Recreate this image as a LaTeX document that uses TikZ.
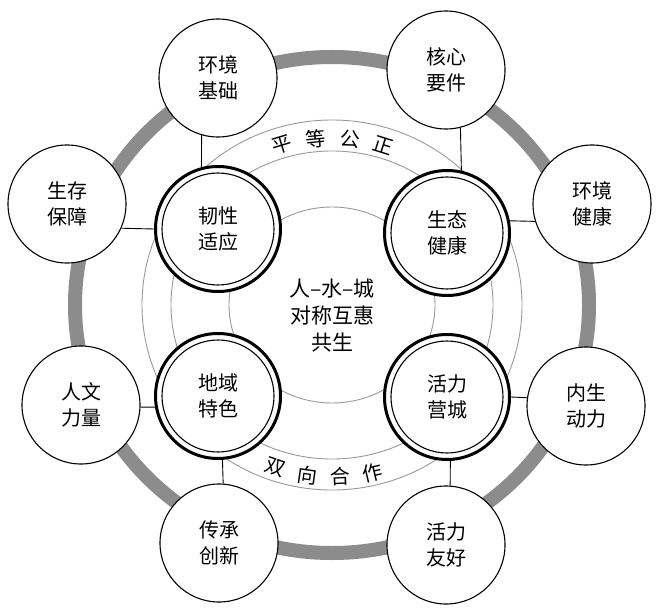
\documentclass[tikz,border=0pt]{standalone}
\usepackage{fontspec}
\setmainfont{Noto Sans CJK SC}
\usetikzlibrary{calc}
\tikzstyle{band}=[black!45, line width=14pt]
\tikzstyle{orbit}=[black!40, line width=0.9pt]
\tikzstyle{link}=[black, line width=0.9pt]
\tikzstyle{word}=[inner sep=0pt, font=\fontsize{20pt}{26pt}\selectfont]
\tikzstyle{goal}=[circle, draw=black, fill=white, line width=1.1pt, minimum size=118pt, inner sep=0pt, align=center, font=\fontsize{20pt}{26pt}\selectfont]
\tikzstyle{pillar}=[circle, draw=black, fill=white, line width=3pt, minimum size=125pt, inner sep=0pt, align=center, font=\fontsize{20pt}{26pt}\selectfont,
	path picture={\draw[line width=1.1pt] (path picture bounding box.center) circle (56pt);}]

\begin{document}
\begin{tikzpicture}[x=1pt, y=1pt]
				\useasboundingbox (0,0) rectangle (660,-612);
				\coordinate (o) at (332,-305);

				% Rings round the centre
				\draw[band] (o) ellipse (257pt and 248pt);
				\foreach \rx/\ry in {103/98, 161/154, 190/185}{ \draw[orbit] (o) ellipse (\rx pt and \ry pt); }

				% Words along the rings
				\foreach \a/\c [count=\i] in {107/平, 95.5/等, 84/公, 72.5/正}{ \node[word, rotate=\a-90] (fair\i) at ($(o)+(\a:172pt and 167pt)$) {\c}; }
				\foreach \a/\c [count=\i] in {251/双, 262/向, 272.6/合, 283.3/作}{ \node[word, rotate=\a-270] (coop\i) at ($(o)+(\a:176pt and 172pt)$) {\c}; }

				\node[goal] (hjjc) at (218, -78) {环境\\基础};
				\node[goal] (hxyj) at (446, -70) {核心\\要件};
				\node[goal] (scbz) at ( 67,-204) {生存\\保障};
				\node[goal] (hjjk) at (592,-204) {环境\\健康};
				\node[goal] (rwll) at ( 81,-405) {人文\\力量};
				\node[goal] (nsdl) at (586,-406) {内生\\动力};
				\node[goal] (cccx) at (219,-543) {传承\\创新};
				\node[goal] (hlyh) at (446,-545) {活力\\友好};

				\node[pillar] (rxsy) at (218,-229) {韧性\\适应};
				\node[pillar] (stjk) at (447,-233) {生态\\健康};
				\node[pillar] (dytc) at (218,-396) {地域\\特色};
				\node[pillar] (hlyc) at (447,-397) {活力\\营城};

				\node[word, align=center, font=\fontsize{21pt}{27pt}\selectfont] (hub) at (332,-316) {人–水–城\\对称互惠\\共生};

				% Short links
				\draw[link] (hjjc.254) -- (rxsy.105);
				\draw[link] (hxyj.284) -- (stjk.77);
				\draw[link] (scbz.-24) -- (rxsy.180);
				\draw[link] (hjjk.197) -- (stjk.11);
				\draw[link] (rwll.-2) -- (dytc.190);
				\draw[link] (nsdl.172) -- (hlyc.0);
				\draw[link] (cccx.86) -- (dytc.274);
				\draw[link] (hlyh.86) -- (hlyc.273);
			\end{tikzpicture}
\end{document}
